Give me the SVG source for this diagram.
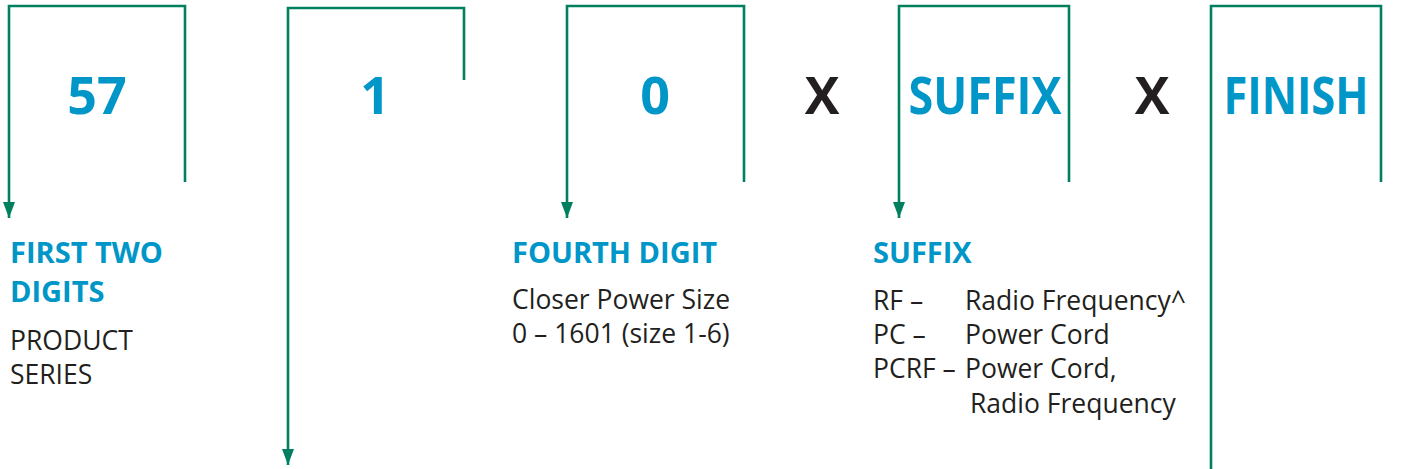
<svg xmlns="http://www.w3.org/2000/svg" width="1403" height="469" viewBox="0 0 1403 469">
<defs>
<marker id="ah" viewBox="0 0 16 12" refX="16" refY="6" markerWidth="16" markerHeight="12" markerUnits="userSpaceOnUse" orient="auto">
<path d="M0,0 L16,6 L0,12 Z" fill="#00805f"/>
</marker>
<style>
.ln{fill:none;stroke:#00805f;stroke-width:2.6}
.big{font-family:"Open Sans","Liberation Sans",sans-serif;font-weight:bold;font-size:52px;fill:#0096c8;text-anchor:middle}
.x{font-family:"Open Sans","Liberation Sans",sans-serif;font-weight:bold;font-size:52px;fill:#231f20;text-anchor:middle}
.hd{font-family:"Open Sans","Liberation Sans",sans-serif;font-weight:bold;font-size:29px;fill:#0096c8}
.tx{font-family:"Open Sans","Liberation Sans",sans-serif;font-size:26.5px;fill:#231f20}
</style>
</defs>
<g id="connectors">
<path class="ln" d="M185,182 V6 H9 V218" marker-end="url(#ah)"/>
<path class="ln" d="M464,80 V8 H288 V465" marker-end="url(#ah)"/>
<path class="ln" d="M744,182 V6 H567 V218" marker-end="url(#ah)"/>
<path class="ln" d="M1069,182 V6 H899 V218" marker-end="url(#ah)"/>
<path class="ln" d="M1381,182 V6 H1211 V469"/>
</g>
<g id="node-57"><text class="big" x="97" y="114">57</text></g>
<g id="node-1"><text class="big" x="375" y="114">1</text></g>
<g id="node-0"><text class="big" x="655" y="114">0</text></g>
<g id="node-x1"><text class="x" x="822" y="114">X</text></g>
<g id="node-suffix"><text class="big" x="985" y="114" textLength="153" lengthAdjust="spacingAndGlyphs">SUFFIX</text></g>
<g id="node-x2"><text class="x" x="1152" y="114">X</text></g>
<g id="node-finish"><text class="big" x="1296" y="114" textLength="145" lengthAdjust="spacingAndGlyphs">FINISH</text></g>
<g id="label-first">
<text class="hd" x="10" y="263">FIRST TWO</text>
<text class="hd" x="10" y="302">DIGITS</text>
<text class="tx" x="10" y="350">PRODUCT</text>
<text class="tx" x="10" y="384">SERIES</text>
</g>
<g id="label-fourth">
<text class="hd" x="512" y="263">FOURTH DIGIT</text>
<text class="tx" x="512" y="309">Closer Power Size</text>
<text class="tx" x="512" y="343">0 – 1601 (size 1-6)</text>
</g>
<g id="label-suffix">
<text class="hd" x="873" y="263">SUFFIX</text>
<text class="tx" x="873" y="310">RF –</text>
<text class="tx" x="965" y="310">Radio Frequency^</text>
<text class="tx" x="873" y="344">PC –</text>
<text class="tx" x="965" y="344">Power Cord</text>
<text class="tx" x="873" y="378">PCRF –</text>
<text class="tx" x="965" y="378">Power Cord,</text>
<text class="tx" x="970" y="413">Radio Frequency</text>
</g>
</svg>
